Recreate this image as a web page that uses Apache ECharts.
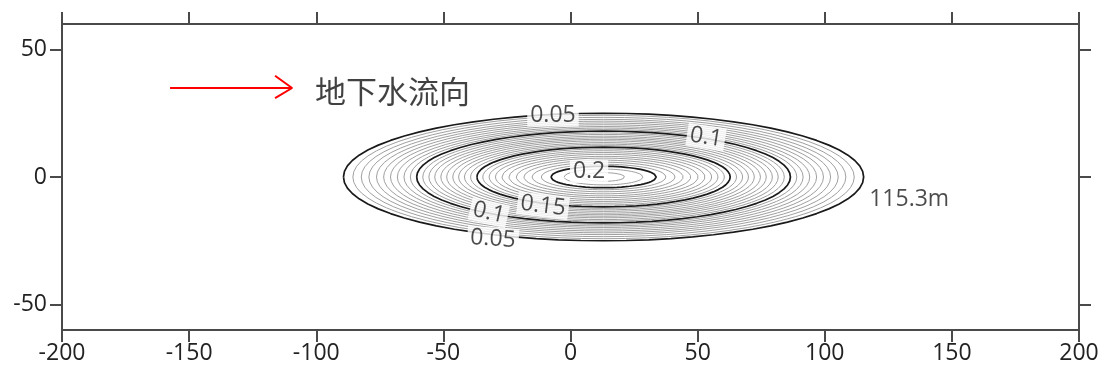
<!DOCTYPE html>
<html>
<head>
<meta charset="utf-8">
<script src="https://cdn.jsdelivr.net/npm/echarts@6/dist/echarts.min.js"></script>
<style>
html,body{margin:0;padding:0;background:#fff;}
#chart{width:1107px;height:376px;}
</style>
</head>
<body>
<div id="chart"></div>
<script>
// ---- data ----
var xTicks = [-200, -150, -100, -50, 0, 50, 100, 150, 200];
var yTicks = [-50, 0, 50];
// contour levels (every 0.005), bold at 0.05 / 0.1 / 0.15 / 0.2
var levels = [0.05,0.055,0.06,0.065,0.07,0.075,0.08,0.085,0.09,0.095,
              0.1,0.105,0.11,0.115,0.12,0.125,0.13,0.135,0.14,0.145,
              0.15,0.155,0.16,0.165,0.17,0.175,0.18,0.185,0.19,0.195,
              0.2,0.205,0.21];
var boldLevels = [0.05, 0.1, 0.15, 0.2];
// along-flow half length (m) of each contour
var halfLength = [102.3,98.6,95.3,92.3,89.3,86.5,83.8,81.1,78.5,76.0,
                  73.5,71.1,68.7,66.4,64.0,61.7,59.3,57.0,54.7,52.3,
                  49.8,47.5,45.0,42.5,39.9,37.2,34.3,31.3,28.1,24.5,
                  20.7,15.5,8.3];
// cross-flow half width (m) of each contour
var halfWidth = [25.0,24.2,23.4,22.6,21.9,21.2,20.5,19.8,19.2,18.6,
                 18.0,17.3,16.7,16.0,15.4,14.8,14.2,13.5,12.9,12.3,
                 11.7,11.0,10.3,9.6,8.9,8.1,7.4,6.6,5.8,5.0,
                 4.2,3.1,1.7];
var plumeCenterX = 13;
var plumeCenterY = 0;
// contour labels
var labelTexts = ['0.05', '0.1', '0.2', '0.15', '0.1', '0.05', '115.3m'];
var labelX     = [-6.9, 53.3, 7.3, -10.8, -32.1, -30.5, 116.3];
var labelY     = [24.3, 15.6, 2.2, -11.3, -14.0, -24.3, -8.9];
// flow direction arrow
var arrowShaft = [[-157.5, 34.9], [-109.5, 34.9]];
var arrowHead  = [[-116.2, 39.7], [-109.5, 34.9], [-116.2, 30.9]];
var flowText = '地下水流向';
var flowTextPos = [-100.5, 33.6];

// ---- build ----
var labelRotate = [0, -9, 0, -7, -13, -4, 0];
var labelHasBg  = [true, true, true, true, true, true, false];
var fontFam = '"Open Sans", "Noto Sans", sans-serif';

function contourPoints(a, b) {
  var pts = [];
  var n = 72;
  for (var i = 0; i <= n; i++) {
    var t = Math.PI - 2 * Math.PI * i / n;
    pts.push([plumeCenterX + a * Math.cos(t), plumeCenterY + b * Math.sin(t)]);
  }
  return pts;
}

var series = [];
for (var k = 0; k < levels.length; k++) {
  var bold = boldLevels.indexOf(levels[k]) >= 0;
  series.push({
    type: 'line',
    name: 'c' + levels[k],
    data: contourPoints(halfLength[k], halfWidth[k]),
    showSymbol: false,
    symbol: 'none',
    silent: true,
    z: bold ? 4 : 3,
    lineStyle: { color: bold ? '#1a1a1a' : '#a0a0a0', width: bold ? 1.7 : 1 }
  });
}

var labelData = labelTexts.map(function (t, i) {
  return {
    value: [labelX[i], labelY[i]],
    label: {
      show: true,
      formatter: t,
      position: i === 6 ? 'right' : 'inside',
      distance: 0,
      rotate: labelRotate[i],
      backgroundColor: labelHasBg[i] ? '#ffffff' : 'transparent',
      padding: [0, 3, 0, 3],
      fontSize: 23,
      fontFamily: fontFam,
      color: '#1e1e1e'
    }
  };
});
series.push({
  type: 'scatter',
  data: labelData,
  symbolSize: 0,
  silent: true,
  z: 10
});

series.push({
  type: 'line',
  data: arrowShaft,
  showSymbol: false, symbol: 'none', silent: true, z: 6,
  lineStyle: { color: '#ff0000', width: 2 }
});
series.push({
  type: 'line',
  data: arrowHead,
  showSymbol: false, symbol: 'none', silent: true, z: 6,
  lineStyle: { color: '#ff0000', width: 2 }
});
series.push({
  type: 'scatter',
  data: [{
    value: flowTextPos,
    label: {
      show: true, formatter: flowText, position: 'right', distance: 0,
      fontSize: 31, fontFamily: '"Noto Sans CJK SC", sans-serif', color: '#111'
    }
  }],
  symbolSize: 0, silent: true, z: 10
});

var axisLineStyle = { color: '#4a4a4a', width: 2 };
var chart = echarts.init(document.getElementById('chart'), null, { renderer: 'canvas' });
chart.setOption({
  animation: false,
  backgroundColor: '#ffffff',
  grid: { left: 62, right: 28, top: 24, bottom: 46, containLabel: false },
  xAxis: [{
    type: 'value', position: 'bottom', min: -200, max: 200, interval: 50,
    axisLine: { show: true, onZero: false, lineStyle: axisLineStyle },
    axisTick: { show: true, inside: false, length: 12, lineStyle: axisLineStyle },
    axisLabel: { show: true, margin: 12, fontSize: 23, fontFamily: fontFam, color: '#222',
                 customValues: xTicks },
    splitLine: { show: false }
  }, {
    type: 'value', position: 'top', min: -200, max: 200, interval: 50,
    axisLine: { show: true, onZero: false, lineStyle: axisLineStyle },
    axisTick: { show: true, inside: false, length: 12, lineStyle: axisLineStyle },
    axisLabel: { show: false },
    splitLine: { show: false }
  }],
  yAxis: [{
    type: 'value', position: 'left', min: -60, max: 60,
    axisLine: { show: true, onZero: false, lineStyle: axisLineStyle },
    axisTick: { show: true, inside: false, length: 12, lineStyle: axisLineStyle, customValues: yTicks },
    axisLabel: { show: true, margin: 15, fontSize: 23, fontFamily: fontFam, color: '#222',
                 customValues: yTicks },
    splitLine: { show: false }
  }, {
    type: 'value', position: 'right', min: -60, max: 60,
    axisLine: { show: true, onZero: false, lineStyle: axisLineStyle },
    axisTick: { show: true, inside: false, length: 12, lineStyle: axisLineStyle, customValues: yTicks },
    axisLabel: { show: false, customValues: yTicks },
    splitLine: { show: false }
  }],
  series: series
});
</script>
</body>
</html>
